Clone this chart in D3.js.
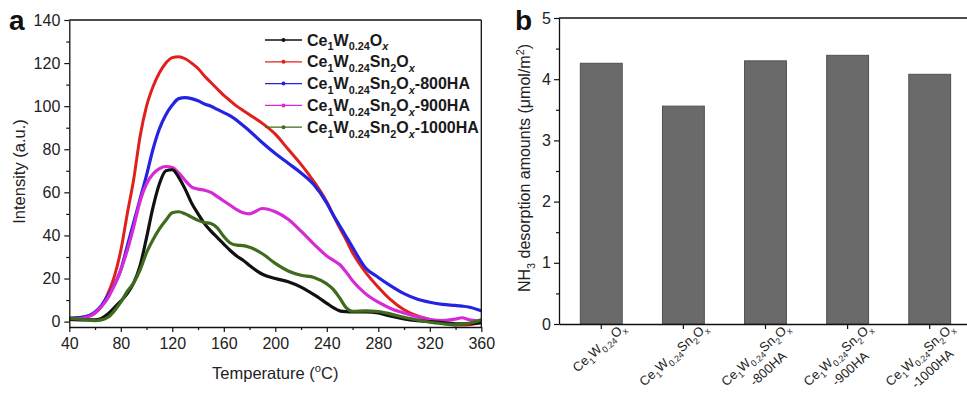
<!DOCTYPE html>
<html>
<head>
<meta charset="utf-8">
<script src="https://cdn.jsdelivr.net/npm/d3@7"></script>
<style>
  html, body { margin: 0; padding: 0; background: #fff; }
  svg { display: block; font-family: "Liberation Sans", Arial, sans-serif; }
</style>
</head>
<body>
<svg id="chart" width="967" height="393"></svg>
<script>
// ---------------- DATA ----------------
const temps = [40, 50, 60, 65, 70, 75, 80, 85, 90, 95, 100, 105, 110, 115, 120, 125, 130, 135, 140, 145, 150, 155, 160, 165, 170, 175, 180, 190, 200, 210, 220, 230, 240, 245, 250, 255, 260, 270, 280, 290, 300, 310, 320, 330, 340, 345, 350, 360];

const ceWOx = [1, 0.8, 0.8, 1.5, 3.5, 6.5, 9.5, 13, 18, 26, 39, 53, 64, 70, 70.5, 67, 61.5, 55, 50, 45.5, 42, 39, 36, 33, 30.5, 28.5, 26, 22, 20, 18.5, 16, 12.5, 8.5, 6.5, 5, 4.6, 4.5, 4.5, 4, 2.5, 1.3, 0.5, 0, -0.5, -1, -1, -1, -0.5];
const ceWSnOx = [1.5, 2, 4, 7, 13, 21, 33, 50, 66, 86, 100, 109, 115.5, 120, 122.5, 123, 122, 120, 117.5, 114, 111, 108, 105, 102.5, 100, 98, 96, 92, 87, 80, 73, 65, 55.5, 49.5, 43.5, 38, 32, 23, 16, 10, 5.5, 2.8, 1, -0.5, -1.5, -1.6, -1.5, -0.3];
const ceWSnOx800 = [1.5, 2, 4.5, 7.5, 12, 17, 24, 35, 46, 57, 68, 80, 89.5, 96, 100.5, 103.5, 104, 103.5, 102.5, 101, 100, 98.5, 97, 95.5, 93.5, 91, 88.5, 83, 78, 73.5, 69, 63.5, 55, 49.5, 44.5, 39.5, 34.5, 25, 20.5, 16.5, 13, 10.5, 9, 8, 7.5, 7.2, 6.8, 5];
const ceWSnOx900 = [1, 1.5, 4, 7, 11, 17, 24, 33, 44, 56, 64, 68.5, 71, 72, 71.5, 69, 65.5, 62.5, 61.5, 61, 60, 58, 56, 54, 52, 50.5, 50, 52.5, 51, 47.5, 42, 36, 30.5, 28.5, 26.5, 23, 19, 13, 9, 6, 4, 2.3, 1, 0.5, 1.2, 1.8, 1, 0.3];
const ceWSnOx1000 = [1.5, 1, 0.5, 0.8, 2, 5, 9, 14, 18, 24, 32, 38, 43, 47, 50.5, 51, 50, 48.5, 47, 46, 45.5, 43.5, 39.5, 36.5, 35.5, 35.3, 34.5, 31.5, 27, 23.5, 21.5, 20.5, 17.5, 15, 11, 6.5, 4.8, 5, 4.7, 3.5, 2, 0.8, -0.3, -1, -1.5, -1.2, -0.8, 0.8];

const seriesValues = [ceWOx, ceWSnOx, ceWSnOx800, ceWSnOx900, ceWSnOx1000];
const seriesColors = ["#111111", "#e0201c", "#2323e6", "#d62ad6", "#3f6b1c"];
// legend labels as rich-text segments: [text, kind]
const seriesLabels = [
  [["Ce"],["1","sub"],["W"],["0.24","sub"],["O"],["x","subi"]],
  [["Ce"],["1","sub"],["W"],["0.24","sub"],["Sn"],["2","sub"],["O"],["x","subi"]],
  [["Ce"],["1","sub"],["W"],["0.24","sub"],["Sn"],["2","sub"],["O"],["x","subi"],["-800HA"]],
  [["Ce"],["1","sub"],["W"],["0.24","sub"],["Sn"],["2","sub"],["O"],["x","subi"],["-900HA"]],
  [["Ce"],["1","sub"],["W"],["0.24","sub"],["Sn"],["2","sub"],["O"],["x","subi"],["-1000HA"]]
];
const drawOrder = [1, 2, 3, 0, 4];

const xTicksA = [40, 80, 120, 160, 200, 240, 280, 320, 360];
const xMinorA = [60, 100, 140, 180, 220, 260, 300, 340];
const yTicksA = [0, 20, 40, 60, 80, 100, 120, 140];
const yMinorA = [10, 30, 50, 70, 90, 110, 130];

// panel b
const barCategories = ["c1", "c2", "c3", "c4", "c5"];
const barValues = [4.26, 3.56, 4.30, 4.39, 4.08];
const barLine1 = [
  [["Ce"],["1","sub"],["W"],["0.24","sub"],["O"],["x","sub"]],
  [["Ce"],["1","sub"],["W"],["0.24","sub"],["Sn"],["2","sub"],["O"],["x","sub"]],
  [["Ce"],["1","sub"],["W"],["0.24","sub"],["Sn"],["2","sub"],["O"],["x","sub"]],
  [["Ce"],["1","sub"],["W"],["0.24","sub"],["Sn"],["2","sub"],["O"],["x","sub"]],
  [["Ce"],["1","sub"],["W"],["0.24","sub"],["Sn"],["2","sub"],["O"],["x","sub"]]
];
const barLine2 = ["", "", "-800HA", "-900HA", "-1000HA"];
const yTicksB = [0, 1, 2, 3, 4, 5];
const yMinorB = [0.5, 1.5, 2.5, 3.5, 4.5];

// ---------------- HELPERS ----------------
function rich(textSel, segs, base) {
  let shift = 0;
  segs.forEach(([t, kind]) => {
    let target = 0, size = base;
    if (kind === "sub" || kind === "subi") { target = base * 0.3; size = base * 0.68; }
    if (kind === "sup") { target = -base * 0.4; size = base * 0.68; }
    const ts = textSel.append("tspan").text(t)
      .attr("dy", target - shift).attr("font-size", size);
    if (kind === "subi") ts.attr("font-style", "italic");
    shift = target;
  });
}

const svg = d3.select("#chart");
const axisColor = "#111";

function styleAxis(g, fs) {
  g.selectAll("path.domain").attr("stroke", axisColor).attr("stroke-width", 1.3);
  g.selectAll(".tick line").attr("stroke", axisColor).attr("stroke-width", 1.2);
  g.selectAll(".tick text").attr("fill", "#222").attr("font-size", fs)
    .attr("font-family", "Liberation Sans, Arial, sans-serif");
}

// ---------------- PANEL A ----------------
const xA = d3.scaleLinear().domain([40, 360]).range([69.3, 481.3]);
const yA = d3.scaleLinear().domain([-2.5, 140]).range([327, 20]);

const gA = svg.append("g");
gA.append("defs").append("clipPath").attr("id", "clipA")
  .append("rect").attr("x", xA.range()[0]).attr("y", yA.range()[1])
  .attr("width", xA.range()[1] - xA.range()[0]).attr("height", yA.range()[0] - yA.range()[1]);

const line = d3.line().x((d, i) => xA(temps[i])).y(d => yA(d)).curve(d3.curveMonotoneX);
const curves = gA.append("g").attr("clip-path", "url(#clipA)");
drawOrder.forEach(si => {
  curves.append("path").datum(seriesValues[si])
    .attr("d", line).attr("fill", "none")
    .attr("stroke", seriesColors[si]).attr("stroke-width", si === 1 ? 3 : 3.2)
    .attr("stroke-linejoin", "round");
});

// frame
gA.append("line").attr("x1", xA.range()[0]).attr("x2", xA.range()[1])
  .attr("y1", yA.range()[1]).attr("y2", yA.range()[1]).attr("stroke", axisColor).attr("stroke-width", 1.3);
gA.append("line").attr("x1", xA.range()[1]).attr("x2", xA.range()[1])
  .attr("y1", yA.range()[1]).attr("y2", yA.range()[0]).attr("stroke", axisColor).attr("stroke-width", 1.3);

const gxA = gA.append("g").attr("transform", `translate(0,${yA.range()[0]})`)
  .call(d3.axisBottom(xA).tickValues(xTicksA).tickSize(5).tickPadding(6).tickSizeOuter(0));
styleAxis(gxA, 16);
const gxAm = gA.append("g").attr("transform", `translate(0,${yA.range()[0]})`)
  .call(d3.axisBottom(xA).tickValues(xMinorA).tickSize(3).tickFormat("").tickSizeOuter(0));
styleAxis(gxAm, 16); gxAm.select("path.domain").remove();

const gyA = gA.append("g").attr("transform", `translate(${xA.range()[0]},0)`)
  .call(d3.axisLeft(yA).tickValues(yTicksA).tickSize(5).tickPadding(4).tickSizeOuter(0));
styleAxis(gyA, 16);
const gyAm = gA.append("g").attr("transform", `translate(${xA.range()[0]},0)`)
  .call(d3.axisLeft(yA).tickValues(yMinorA).tickSize(3).tickFormat("").tickSizeOuter(0));
styleAxis(gyAm, 16); gyAm.select("path.domain").remove();

// axis titles
const tA = gA.append("text").attr("x", (xA.range()[0] + xA.range()[1]) / 2).attr("y", 379)
  .attr("text-anchor", "middle").attr("font-size", 16.5).attr("fill", "#222");
rich(tA, [["Temperature ("], ["o", "sup"], ["C)"]], 16.5);
gA.append("text").attr("transform", `translate(25,${(yA.range()[0] + yA.range()[1]) / 2 - 2}) rotate(-90)`)
  .attr("text-anchor", "middle").attr("font-size", 16.5).attr("fill", "#222")
  .text("Intensity (a.u.)");

// panel letter
svg.append("text").attr("x", 9).attr("y", 30).attr("font-size", 28).attr("font-weight", "bold")
  .attr("fill", "#111").text("a");

// legend
const legend = gA.append("g");
seriesLabels.forEach((segs, i) => {
  const ly = 40 + i * 21.8;
  legend.append("line").attr("x1", 265).attr("x2", 302).attr("y1", ly).attr("y2", ly)
    .attr("stroke", seriesColors[i]).attr("stroke-width", 1.3);
  legend.append("circle").attr("cx", 283.5).attr("cy", ly).attr("r", 2)
    .attr("fill", seriesColors[i]);
  const t = legend.append("text").attr("x", 307).attr("y", ly + 5.5)
    .attr("font-size", 16).attr("font-weight", "bold").attr("fill", "#1a1a1a");
  rich(t, segs, 16);
});

// ---------------- PANEL B ----------------
const xB = d3.scaleBand().domain(barCategories).range([559, 972]).paddingInner(0.49).paddingOuter(0.26);
const yB = d3.scaleLinear().domain([0, 5]).range([324, 18]);
const gB = svg.append("g");

gB.selectAll("rect.bar").data(barValues).join("rect").attr("class", "bar")
  .attr("x", (d, i) => xB(barCategories[i])).attr("width", xB.bandwidth())
  .attr("y", d => yB(d)).attr("height", d => yB(0) - yB(d))
  .attr("fill", "#6a6a6a").attr("stroke", "#505050").attr("stroke-width", 1);

gB.append("line").attr("x1", 559).attr("x2", 972).attr("y1", yB(5)).attr("y2", yB(5))
  .attr("stroke", axisColor).attr("stroke-width", 1.3);

const gyB = gB.append("g").attr("transform", "translate(559,0)")
  .call(d3.axisLeft(yB).tickValues(yTicksB).tickFormat(d3.format("d")).tickSize(5).tickPadding(3).tickSizeOuter(0));
styleAxis(gyB, 16);
const gyBm = gB.append("g").attr("transform", "translate(559,0)")
  .call(d3.axisLeft(yB).tickValues(yMinorB).tickSize(3).tickFormat("").tickSizeOuter(0));
styleAxis(gyBm, 16); gyBm.select("path.domain").remove();

const gxB = gB.append("g").attr("transform", `translate(0,${yB(0)})`)
  .call(d3.axisBottom(xB).tickSize(5).tickFormat("").tickSizeOuter(0));
styleAxis(gxB, 13);

// rotated category labels
barCategories.forEach((c, i) => {
  const cx = xB(c) + xB.bandwidth() / 2;
  const g = gB.append("g").attr("transform", `translate(${cx + 25},${yB(0) + 5}) rotate(-42)`);
  const t1 = g.append("text").attr("x", 0).attr("y", 0).attr("text-anchor", "end")
    .attr("font-size", 13).attr("fill", "#222");
  rich(t1, barLine1[i], 13);
  if (barLine2[i]) {
    const w1 = t1.node().getComputedTextLength();
    g.append("text").attr("x", -w1 / 2).attr("y", 19).attr("text-anchor", "middle")
      .attr("font-size", 13).attr("fill", "#222").text(barLine2[i]);
  }
});

// y title
const tB = gB.append("text").attr("transform", `translate(530,168) rotate(-90)`)
  .attr("text-anchor", "middle").attr("font-size", 16).attr("fill", "#222");
rich(tB, [["NH"], ["3", "sub"], [" desorption amounts (\u03bcmol/m"], ["2", "sup"], [")"]], 16);

svg.append("text").attr("x", 515).attr("y", 30).attr("font-size", 28).attr("font-weight", "bold")
  .attr("fill", "#111").text("b");
</script>
</body>
</html>
